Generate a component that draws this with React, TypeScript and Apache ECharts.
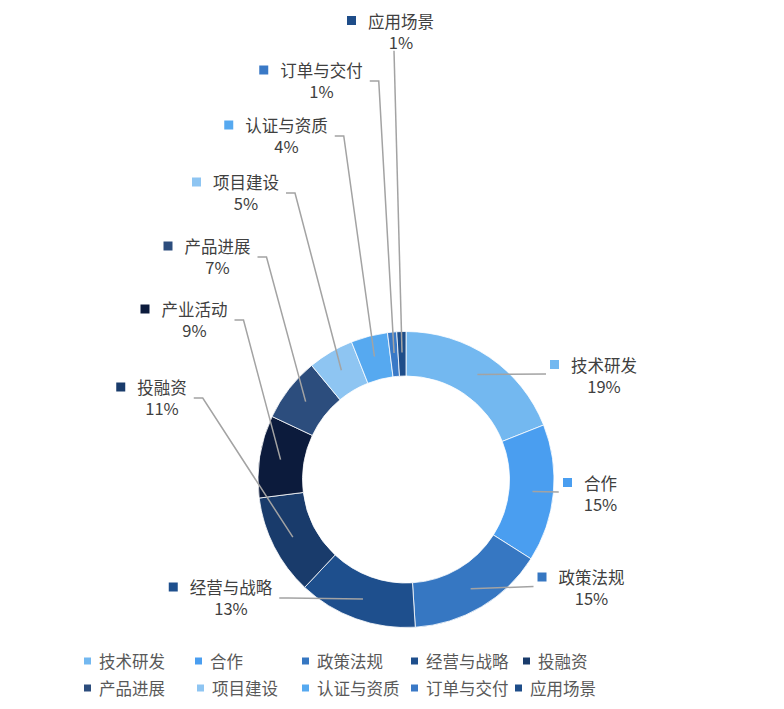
import React, { useEffect, useRef } from 'react';
import * as echarts from 'echarts';

const categories = ['技术研发', '合作', '政策法规', '经营与战略', '投融资', '产业活动', '产品进展', '项目建设', '认证与资质', '订单与交付', '应用场景'];
const shares = [19, 15, 15, 13, 11, 9, 7, 5, 4, 1, 1];
const colors = ['#73b8f0', '#4a9ef0', '#3677c2', '#1e4f8d', '#193b6b', '#0c1b3c', '#2c4d7d', '#8ec5f2', '#56a9f0', '#3a79c6', '#1e4d89'];

const legendRows = [
  ['技术研发', '合作', '政策法规', '经营与战略', '投融资'],
  ['产品进展', '项目建设', '认证与资质', '订单与交付', '应用场景'],
];

// layout (pixels)
const CX = 406;
const CY = 479.5;
const R_IN = 103.5;
const R_OUT = 148;
const ANCHOR_R = 127;
const labelPos = [
  [593.5, 375], [590, 493], [581, 587.5], [220.5, 597.5], [151.5, 397.5], [184, 319.5],
  [207, 256.5], [235.5, 192.5], [276, 135.5], [311, 80.5], [390.5, 31],
];
const lineKind = ['right', 'right', 'right', 'left', 'left', 'left', 'left', 'left', 'left', 'left', 'top'];
const legendLeft = [[82, 193, 300, 409, 521], [82, 195, 300, 409, 513]];
const legendTop = [651, 678];

const FONT = "'Microsoft YaHei', 'Noto Sans CJK SC', sans-serif";

export default function App() {
  const ref = useRef<HTMLDivElement>(null);
  useEffect(() => {
    if (!ref.current) return;
    const chart = echarts.init(ref.current, undefined, { renderer: 'svg' });
    const total = shares.reduce((a, b) => a + b, 0);
    const cum: number[] = [];
    let acc = 0;
    shares.forEach((v) => { cum.push(acc); acc += v; });

    const ringData = categories.map((name, i) => ({
      name,
      value: shares[i],
      itemStyle: { color: colors[i] },
    }));

    const labelData = categories.map((name, i) => ({
      name,
      value: shares[i],
      itemStyle: { color: 'rgba(0,0,0,0)' },
      label: {
        rich: {
          m: { width: 9, height: 9, backgroundColor: colors[i] },
          n: { fontSize: 16.5, color: '#404040', lineHeight: 21, fontFamily: FONT, padding: [0, 0, 0, 12] },
          p: { fontSize: 16.5, color: '#404040', lineHeight: 21, fontFamily: FONT, padding: [0, 0, 0, 21] },
        },
      },
    }));

    const legends: any[] = [];
    legendRows.forEach((row, r) => {
      row.forEach((name, c) => {
        legends.push({
          data: [name],
          left: legendLeft[r][c],
          top: legendTop[r],
          padding: 0,
          icon: 'rect',
          itemWidth: 9,
          itemHeight: 9,
          selectedMode: false,
          textStyle: { fontSize: 16.5, color: '#595959', fontFamily: FONT, lineHeight: 20, padding: [0, 0, 0, 2] },
        });
      });
    });

    chart.setOption({
      animation: false,
      backgroundColor: '#ffffff',
      legend: legends,
      series: [
        {
          type: 'pie',
          z: 2,
          center: [CX, CY],
          radius: [R_IN, R_OUT],
          startAngle: 90,
          clockwise: true,
          silent: true,
          emphasis: { disabled: true },
          itemStyle: { borderColor: '#ffffff', borderWidth: 0.8 },
          label: { show: false },
          labelLine: { show: false },
          data: ringData,
        },
        {
          type: 'pie',
          z: 5,
          center: [CX, CY],
          radius: [R_IN, R_OUT],
          startAngle: 90,
          clockwise: true,
          silent: true,
          avoidLabelOverlap: false,
          emphasis: { disabled: true },
          label: {
            show: true,
            position: 'outside',
            align: 'center',
            formatter: (p: any) => `{m|}{n|${p.name}}\n{p|${Math.round(p.percent)}%}`,
          },
          labelLine: { show: true, showAbove: true, lineStyle: { color: '#a3a3a3', width: 1.5 } },
          labelLayout: (p: any) => {
            const i = p.dataIndex;
            const [x, y] = labelPos[i];
            const w = p.labelRect.width;
            const h = p.labelRect.height;
            const frac = (cum[i] + shares[i] / 2) / total;
            const th = frac * Math.PI * 2;
            const anchor = [CX + ANCHOR_R * Math.sin(th), CY - ANCHOR_R * Math.cos(th)];
            let pts: number[][];
            if (lineKind[i] === 'right') {
              pts = [anchor, [x - w / 2 - 4, y - 1]];
            } else if (lineKind[i] === 'left') {
              pts = [[x + w / 2 + 7, y + 0.5], [x + w / 2 + 16, y + 0.5], anchor];
            } else {
              pts = [[x + 3.5, y + h / 2 + 1], anchor];
            }
            return { x, y, align: 'center', verticalAlign: 'middle', labelLinePoints: pts };
          },
          data: labelData,
        },
      ],
    });
    return () => chart.dispose();
  }, []);
  return <div ref={ref} style={{ position: 'absolute', left: 0, top: 0, width: 784, height: 709 }} />;
}
